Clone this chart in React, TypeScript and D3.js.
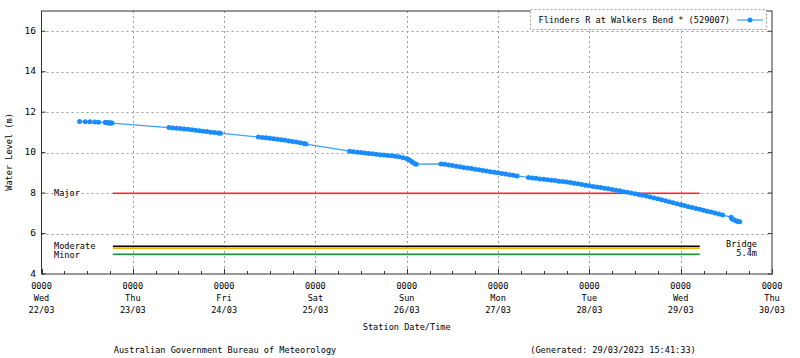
import React from 'react';
import * as d3 from 'd3';

const seriesName = 'Flinders R at Walkers Bend * (529007)';

// [station time, water level (m)]
const readings: [string, number][] = [
  ['2023-03-22 10:00', 11.54], ['2023-03-22 11:30', 11.53], ['2023-03-22 12:45', 11.52],
  ['2023-03-22 14:00', 11.51], ['2023-03-22 15:00', 11.5], ['2023-03-22 16:45', 11.49],
  ['2023-03-22 17:00', 11.49], ['2023-03-22 17:15', 11.48], ['2023-03-22 17:30', 11.48],
  ['2023-03-22 17:45', 11.47], ['2023-03-22 18:00', 11.47], ['2023-03-22 18:15', 11.46],
  ['2023-03-22 18:30', 11.46],
  ['2023-03-23 09:30', 11.24], ['2023-03-23 10:30', 11.22], ['2023-03-23 11:30', 11.21],
  ['2023-03-23 12:30', 11.19], ['2023-03-23 13:30', 11.17], ['2023-03-23 14:30', 11.15],
  ['2023-03-23 15:30', 11.13], ['2023-03-23 16:30', 11.11], ['2023-03-23 17:30', 11.08],
  ['2023-03-23 18:30', 11.06], ['2023-03-23 19:30', 11.04], ['2023-03-23 20:30', 11.01],
  ['2023-03-23 21:30', 10.99], ['2023-03-23 22:30', 10.97], ['2023-03-23 23:00', 10.96],
  ['2023-03-24 09:00', 10.77], ['2023-03-24 10:00', 10.75], ['2023-03-24 11:00', 10.73],
  ['2023-03-24 12:00', 10.71], ['2023-03-24 13:00', 10.69], ['2023-03-24 14:00', 10.66],
  ['2023-03-24 15:00', 10.63], ['2023-03-24 16:00', 10.61], ['2023-03-24 17:00', 10.58],
  ['2023-03-24 18:00', 10.55], ['2023-03-24 19:00', 10.52], ['2023-03-24 20:00', 10.49],
  ['2023-03-24 21:00', 10.45], ['2023-03-24 21:30', 10.42],
  ['2023-03-25 09:00', 10.07], ['2023-03-25 10:00', 10.04], ['2023-03-25 11:00', 10.02],
  ['2023-03-25 12:00', 10.0], ['2023-03-25 13:00', 9.98], ['2023-03-25 14:00', 9.96],
  ['2023-03-25 15:00', 9.94], ['2023-03-25 16:00', 9.92], ['2023-03-25 17:00', 9.9],
  ['2023-03-25 18:00', 9.88], ['2023-03-25 19:00', 9.86], ['2023-03-25 20:00', 9.84],
  ['2023-03-25 21:00', 9.82], ['2023-03-25 22:00', 9.79], ['2023-03-25 23:00', 9.75],
  ['2023-03-26 00:00', 9.7], ['2023-03-26 00:30', 9.66], ['2023-03-26 01:00', 9.6],
  ['2023-03-26 01:30', 9.52], ['2023-03-26 02:00', 9.46], ['2023-03-26 02:30', 9.43],
  ['2023-03-26 09:00', 9.44], ['2023-03-26 10:00', 9.42], ['2023-03-26 11:00', 9.39],
  ['2023-03-26 12:00', 9.36], ['2023-03-26 13:00', 9.33], ['2023-03-26 14:00', 9.3],
  ['2023-03-26 15:00', 9.27], ['2023-03-26 16:00', 9.24], ['2023-03-26 17:00', 9.21],
  ['2023-03-26 18:00', 9.18], ['2023-03-26 19:00', 9.15], ['2023-03-26 20:00', 9.12],
  ['2023-03-26 21:00', 9.09], ['2023-03-26 22:00', 9.06], ['2023-03-26 23:00', 9.03],
  ['2023-03-27 00:00', 9.0], ['2023-03-27 01:00', 8.97], ['2023-03-27 02:00', 8.94],
  ['2023-03-27 03:00', 8.91], ['2023-03-27 04:00', 8.88], ['2023-03-27 05:00', 8.85],
  ['2023-03-27 08:00', 8.77], ['2023-03-27 09:00', 8.75], ['2023-03-27 10:00', 8.73],
  ['2023-03-27 11:00', 8.7], ['2023-03-27 12:00', 8.68], ['2023-03-27 13:00', 8.66],
  ['2023-03-27 14:00', 8.64], ['2023-03-27 15:00', 8.62], ['2023-03-27 16:00', 8.59],
  ['2023-03-27 17:00', 8.57], ['2023-03-27 18:00', 8.55], ['2023-03-27 19:00', 8.52],
  ['2023-03-27 20:00', 8.49], ['2023-03-27 21:00', 8.46], ['2023-03-27 22:00', 8.42],
  ['2023-03-27 23:00', 8.39],
  ['2023-03-28 00:00', 8.36], ['2023-03-28 01:00', 8.33], ['2023-03-28 02:00', 8.3],
  ['2023-03-28 03:00', 8.27], ['2023-03-28 04:00', 8.24], ['2023-03-28 05:00', 8.21],
  ['2023-03-28 06:00', 8.18], ['2023-03-28 07:00', 8.14], ['2023-03-28 08:00', 8.11],
  ['2023-03-28 09:00', 8.07], ['2023-03-28 10:00', 8.04], ['2023-03-28 11:00', 8.0],
  ['2023-03-28 12:00', 7.97], ['2023-03-28 13:00', 7.93], ['2023-03-28 14:00', 7.89],
  ['2023-03-28 15:00', 7.85], ['2023-03-28 16:00', 7.8], ['2023-03-28 17:00', 7.76],
  ['2023-03-28 18:00', 7.72], ['2023-03-28 19:00', 7.67], ['2023-03-28 20:00', 7.62],
  ['2023-03-28 21:00', 7.57], ['2023-03-28 22:00', 7.52], ['2023-03-28 23:00', 7.47],
  ['2023-03-29 00:00', 7.42], ['2023-03-29 01:00', 7.38], ['2023-03-29 02:00', 7.33],
  ['2023-03-29 03:00', 7.29], ['2023-03-29 04:00', 7.24], ['2023-03-29 05:00', 7.2],
  ['2023-03-29 06:00', 7.15], ['2023-03-29 07:00', 7.1], ['2023-03-29 08:00', 7.06],
  ['2023-03-29 09:00', 7.01], ['2023-03-29 10:00', 6.96], ['2023-03-29 11:00', 6.92],
  ['2023-03-29 13:15', 6.8], ['2023-03-29 13:30', 6.72], ['2023-03-29 14:00', 6.68],
  ['2023-03-29 14:30', 6.63], ['2023-03-29 15:00', 6.6], ['2023-03-29 15:30', 6.58],
];

const timeDomain = ['2023-03-22 00:00', '2023-03-30 00:00'];
const levelDomain = [4, 17];
const levelTicks = [4, 6, 8, 10, 12, 14, 16];

const thresholdNames = ['Minor', 'Moderate', 'Bridge', 'Major'];
const thresholdLevels = [5.0, 5.3, 5.4, 8.0];
const thresholdSpan = ['2023-03-22 18:45', '2023-03-29 05:00'];
const thresholdColors = ['#12953a', '#f2b705', '#000000', 'rgb(255,40,40)'];

const xTitle = 'Station Date/Time';
const yTitle = 'Water Level (m)';
const footerLeft = 'Australian Government Bureau of Meteorology';
const footerRight = '(Generated: 29/03/2023 15:41:33)';

const W = 800;
const H = 358;
const M = { left: 41.5, right: 772, top: 11, bottom: 274 };
const FONT = '"DejaVu Sans Mono", "Liberation Mono", monospace';
const FS = 8.6;
const BLUE = '#1a8cff';
const GRID = '#9a9a9a';

const parse = d3.utcParse('%Y-%m-%d %H:%M');

export default function App() {
  const x = d3.scaleUtc().domain(timeDomain.map((t) => parse(t)!)).range([M.left, M.right]);
  const y = d3.scaleLinear().domain(levelDomain).range([M.bottom, M.top]);

  const pts = readings.map(([t, v]) => ({ t: parse(t)!, v }));
  const line = d3
    .line<{ t: Date; v: number }>()
    .x((d) => x(d.t))
    .y((d) => y(d.v));

  const dayTicks = x.ticks(d3.utcDay.every(1)!);
  const minorTicks = x.ticks(d3.utcHour.every(6)!);
  const fmtDay = d3.utcFormat('%a');
  const fmtDate = d3.utcFormat('%d/%m');
  const fmtTime = d3.utcFormat('%H%M');

  const tx0 = x(parse(thresholdSpan[0])!);
  const tx1 = x(parse(thresholdSpan[1])!);

  const textProps = { fontFamily: FONT, fontSize: FS, fill: '#000' };

  return (
    <svg
      width={W}
      height={H}
      style={{ position: 'absolute', left: 0, top: 0, background: '#fff' }}
    >
      <rect x={0} y={0} width={W} height={H} fill="#fff" />

      {/* grid */}
      {levelTicks
        .filter((v) => v !== levelDomain[0])
        .map((v) => (
          <line
            key={'gy' + v}
            x1={M.left}
            x2={M.right}
            y1={Math.round(y(v)) + 0.5}
            y2={Math.round(y(v)) + 0.5}
            stroke={GRID}
            strokeWidth={1}
            strokeDasharray="2,3"
          />
        ))}
      {dayTicks.slice(1, -1).map((d) => (
        <line
          key={'gx' + d.getTime()}
          x1={Math.round(x(d)) + 0.5}
          x2={Math.round(x(d)) + 0.5}
          y1={M.top}
          y2={M.bottom}
          stroke={GRID}
          strokeWidth={1}
          strokeDasharray="2,3"
        />
      ))}

      {/* threshold lines */}
      {thresholdLevels.map((lv, i) => (
        <rect
          key={'th' + i}
          x={tx0}
          width={tx1 - tx0}
          y={Math.round(y(lv)) - 0.5}
          height={1.6}
          fill={thresholdColors[i]}
        />
      ))}
      <text {...textProps} x={54} y={y(thresholdLevels[3])} dominantBaseline="middle">
        {thresholdNames[3]}
      </text>
      <text {...textProps} x={54} y={y(thresholdLevels[1]) - 1} dominantBaseline="middle">
        {thresholdNames[1]}
      </text>
      <text {...textProps} x={54} y={y(thresholdLevels[0]) + 1.5} dominantBaseline="middle">
        {thresholdNames[0]}
      </text>
      <text {...textProps} x={757} y={y(thresholdLevels[2]) - 1.5} dominantBaseline="middle" textAnchor="end">
        {thresholdNames[2]}
      </text>
      <text {...textProps} x={757} y={y(thresholdLevels[2]) + 7.5} dominantBaseline="middle" textAnchor="end">
        {thresholdLevels[2] + 'm'}
      </text>

      {/* series */}
      <path d={line(pts) || ''} fill="none" stroke="#3d9dff" strokeWidth={1.2} />
      {pts.map((p, i) => (
        <circle key={'p' + i} cx={x(p.t)} cy={y(p.v)} r={2.5} fill={BLUE} />
      ))}

      {/* frame */}
      <rect
        x={M.left}
        y={M.top}
        width={M.right - M.left}
        height={M.bottom - M.top}
        fill="none"
        stroke="#333"
        strokeWidth={1}
      />

      {/* ticks */}
      {minorTicks.map((d) => {
        const isMajor = d.getUTCHours() === 0;
        const px = Math.round(x(d)) + 0.5;
        return (
          <line
            key={'mt' + d.getTime()}
            x1={px}
            x2={px}
            y1={M.bottom}
            y2={M.bottom - (isMajor ? 5 : 3)}
            stroke="#333"
          />
        );
      })}
      {levelTicks.map((v) => (
        <g key={'yt' + v}>
          <line x1={M.left} x2={M.left + 4} y1={y(v)} y2={y(v)} stroke="#333" />
          <line x1={M.right} x2={M.right - 4} y1={y(v)} y2={y(v)} stroke="#333" />
          <text {...textProps} fontSize={9.5} x={36} y={y(v)} textAnchor="end" dominantBaseline="middle">
            {v}
          </text>
        </g>
      ))}

      {/* x labels */}
      {dayTicks.map((d) => (
        <g key={'xl' + d.getTime()}>
          <text {...textProps} x={x(d)} y={286} textAnchor="middle" dominantBaseline="middle">
            {fmtTime(d)}
          </text>
          <text {...textProps} x={x(d)} y={298} textAnchor="middle" dominantBaseline="middle">
            {fmtDay(d)}
          </text>
          <text {...textProps} x={x(d)} y={310} textAnchor="middle" dominantBaseline="middle">
            {fmtDate(d)}
          </text>
        </g>
      ))}

      <text {...textProps} x={(M.left + M.right) / 2} y={327} textAnchor="middle" dominantBaseline="middle">
        {xTitle}
      </text>
      <text
        {...textProps}
        transform={`translate(9,152) rotate(-90)`}
        textAnchor="middle"
        dominantBaseline="middle"
      >
        {yTitle}
      </text>

      {/* legend */}
      <rect
        x={530.5}
        y={9.5}
        width={236}
        height={20}
        fill="#fff"
        stroke={GRID}
        strokeDasharray="2,2"
      />
      <text {...textProps} x={730} y={20} textAnchor="end" dominantBaseline="middle">
        {seriesName}
      </text>
      <line x1={737} x2={763} y1={20} y2={20} stroke="#3d9dff" strokeWidth={1.2} />
      <circle cx={750} cy={20} r={2.5} fill={BLUE} />

      {/* footer */}
      <text {...textProps} x={225} y={350} textAnchor="middle" dominantBaseline="middle">
        {footerLeft}
      </text>
      <text {...textProps} x={613} y={350} textAnchor="middle" dominantBaseline="middle">
        {footerRight}
      </text>
    </svg>
  );
}
